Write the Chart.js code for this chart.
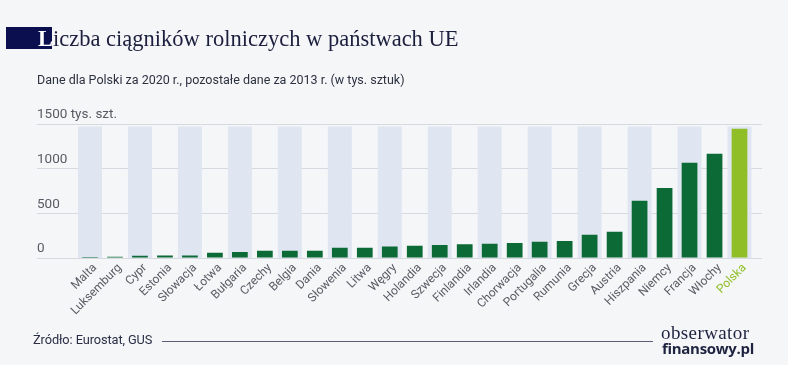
<!DOCTYPE html>
<html>
<head>
<meta charset="utf-8">
<script src="https://cdn.jsdelivr.net/npm/chart.js@4.4.1/dist/chart.umd.min.js"></script>
<style>
  html, body { margin: 0; padding: 0; background: #f5f6f8; }
  #wrap { position: relative; width: 788px; height: 365px; overflow: hidden; background: #f5f6f8; }
  #chart { position: absolute; left: 0; top: 0; }
  .tbox { position: absolute; left: 6px; top: 27px; width: 46px; height: 22px; background: #0b0f4f; }
  .title {
    position: absolute; left: 38px; top: 26px;
    font-family: "Liberation Serif", serif; font-size: 22.5px; line-height: 25px;
    color: #1b1f3d; white-space: nowrap;
  }
  .title .first { color: #ffffff; font-weight: bold; }
  .sub {
    position: absolute; left: 37px; top: 72px;
    font-family: Roboto, sans-serif; font-size: 12.5px; color: #2c3140; white-space: nowrap;
  }
  .src {
    position: absolute; left: 33px; top: 332px;
    font-family: Roboto, sans-serif; font-size: 12.8px; color: #2a2f45; white-space: nowrap;
    letter-spacing: -0.1px;
  }
  .rule { position: absolute; left: 162px; top: 341px; width: 491px; height: 1px; background: #5a5f78; }
  .logo1 {
    position: absolute; left: 661px; top: 322px;
    font-family: "Liberation Serif", serif; font-size: 19px; color: #1e2340; letter-spacing: 0.4px;
  }
  .logo2 {
    position: absolute; left: 662px; top: 338px;
    font-family: "Open Sans", sans-serif; font-weight: bold; font-size: 15px; color: #1e2340; letter-spacing: -0.3px;
  }
</style>
</head>
<body>
<div id="wrap">
  <canvas id="chart" width="788" height="365"></canvas>
  <div class="tbox"></div>
  <div class="title"><span class="first">L</span>iczba ciągników rolniczych w państwach UE</div>
  <div class="sub">Dane dla Polski za 2020 r., pozostałe dane za 2013 r. (w tys. sztuk)</div>
  <div class="src">Źródło: Eurostat, GUS</div>
  <div class="rule"></div>
  <div class="logo1">obserwator</div>
  <div class="logo2">finansowy.pl</div>
</div>
<script>
  // dane (tys. sztuk)
  const countries = ["Malta", "Luksemburg", "Cypr", "Estonia", "Słowacja", "Łotwa", "Bułgaria",
    "Czechy", "Belgia", "Dania", "Słowenia", "Litwa", "Węgry", "Holandia", "Szwecja",
    "Finlandia", "Irlandia", "Chorwacja", "Portugalia", "Rumunia", "Grecja", "Austria",
    "Hiszpania", "Niemcy", "Francja", "Włochy", "Polska"];
  const tractors = [1, 15, 25, 29, 29, 59, 67, 82, 82, 82, 116, 116, 130, 138, 145,
    153, 160, 168, 183, 190, 261, 294, 641, 783, 1066, 1167, 1446];
  const yTicks = [0, 500, 1000, 1500];
  const highlight = "Polska";
  const bandTop = 1472;

  const GREEN = "#0b6a35";
  const LIME = "#8fbe27";

  // jasne pasy za co drugą kategorią
  const bandsPlugin = {
    id: "bands",
    beforeDatasetsDraw(chart) {
      const { ctx, scales: { x, y } } = chart;
      const w = x.getPixelForValue(1) - x.getPixelForValue(0);
      ctx.save();
      ctx.fillStyle = "#dfe6f1";
      countries.forEach((c, i) => {
        if (i % 2) return;
        const cx = x.getPixelForValue(i);
        const top = y.getPixelForValue(bandTop);
        ctx.fillRect(cx - w / 2 + 0.5, top, w - 1, y.getPixelForValue(0) - top);
      });
      ctx.restore();
    }
  };

  const gridColor = "#d6d9df";

  new Chart(document.getElementById("chart").getContext("2d"), {
    type: "bar",
    data: {
      labels: countries,
      datasets: [{
        data: tractors,
        backgroundColor: countries.map(c => c === highlight ? LIME : GREEN),
        borderWidth: 0,
        barPercentage: 0.63,
        categoryPercentage: 1
      }]
    },
    options: {
      responsive: false,
      animation: false,
      layout: { padding: { left: 37, right: 26, top: 124, bottom: 47 } },
      plugins: { legend: { display: false }, tooltip: { enabled: false } },
      scales: {
        x: {
          grid: { display: false, drawTicks: false },
          border: { display: false },
          afterFit: s => { s.height = 60; },
          ticks: {
            autoSkip: false,
            minRotation: 45,
            maxRotation: 45,
            padding: 3,
            labelOffset: 5,
            font: { family: "Roboto", size: 12 },
            color: c => countries[c.index] === highlight ? LIME : "#585c64"
          }
        },
        y: {
          min: 0,
          max: 1500,
          afterBuildTicks: s => { s.ticks = yTicks.map(v => ({ value: v })); },
          afterFit: s => { s.width = 40.5; },
          grid: { color: gridColor, tickColor: gridColor, tickLength: 40.5, lineWidth: 1 },
          border: { display: false },
          ticks: {
            mirror: true,
            crossAlign: "near",
            labelOffset: -9,
            padding: -40.5,
            font: { family: "Roboto", size: 13.5 },
            color: "#575b63",
            callback: v => v === 1500 ? "1500 tys. szt." : String(v)
          }
        },
        y2: {
          position: "right",
          min: 0,
          max: 1500,
          afterBuildTicks: s => { s.ticks = yTicks.map(v => ({ value: v })); },
          afterFit: s => { s.width = 10; },
          grid: { drawOnChartArea: false, color: gridColor, tickColor: gridColor, tickLength: 10 },
          border: { display: false },
          ticks: { display: false }
        }
      }
    },
    plugins: [bandsPlugin]
  });
</script>
</body>
</html>
